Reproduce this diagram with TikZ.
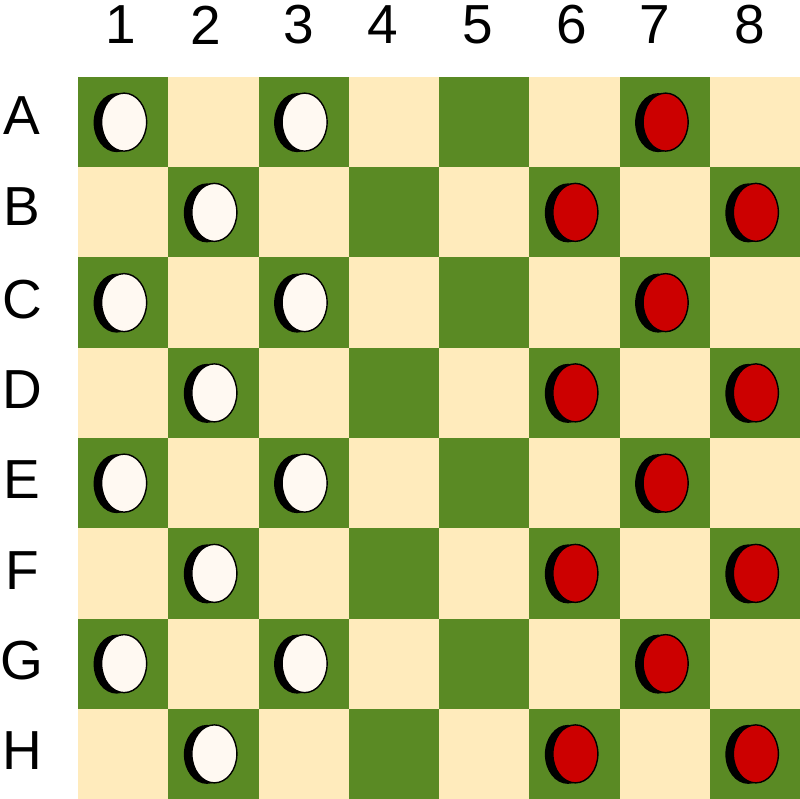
\documentclass[tikz,border=0pt]{standalone}
\usepackage{fontspec}
\setmainfont{Liberation Sans}
\definecolor{boardgreen}{HTML}{5A8A24}
\definecolor{boardcream}{HTML}{FFEBBC}
\definecolor{piecered}{HTML}{CC0000}
\definecolor{piecewhite}{HTML}{FFF9F2}
\tikzset{
  lbl/.style={font=\fontsize{55}{55}\selectfont, text=black, inner sep=0pt, anchor=center},
}
\begin{document}
\begin{tikzpicture}[x=1pt,y=-1pt]
\useasboundingbox (0,0) rectangle (800,799);
\fill[white] (0,0) rectangle (800,799);
\def\sq{90.25}
% board
\foreach \r in {0,...,7}{
  \foreach \c in {0,...,7}{
    \pgfmathtruncatemacro{\p}{mod(\r+\c,2)}
    \ifnum\p=0 \def\col{boardgreen}\else\def\col{boardcream}\fi
    \fill[\col] ({78+\c*\sq},{77+\r*\sq}) rectangle ({78+(\c+1)*\sq},{77+(\r+1)*\sq});
  }
}
% labels
\foreach \n/\x in {1/121,2/205.5,3/299,4/383,5/478,6/571.5,7/655,8/750}{
  \node[lbl] (col\n) at (\x,25) {\n};
}
\foreach \l/\y in {A/116,B/207,C/300,D/389.5,E/480,F/571,G/661,H/751}{
  \node[lbl] (row\l) at (22,\y) {\l};
}
% pieces
\newcommand{\piece}[3]{% row col colour
  \fill[black] ({78+(#2+0.5)*\sq-6.5},{77+(#1+0.5)*\sq+0.5}) ellipse [x radius=23, y radius=29.5];
  \filldraw[fill=#3, draw=black, line width=1.4pt] ({78+(#2+0.5)*\sq+1},{77+(#1+0.5)*\sq}) ellipse [x radius=22.5, y radius=29];
}
\foreach \r in {0,2,4,6}{
  \piece{\r}{0}{piecewhite}
  \piece{\r}{2}{piecewhite}
  \piece{\r}{6}{piecered}
}
\foreach \r in {1,3,5,7}{
  \piece{\r}{1}{piecewhite}
  \piece{\r}{5}{piecered}
  \piece{\r}{7}{piecered}
}
\end{tikzpicture}
\end{document}
